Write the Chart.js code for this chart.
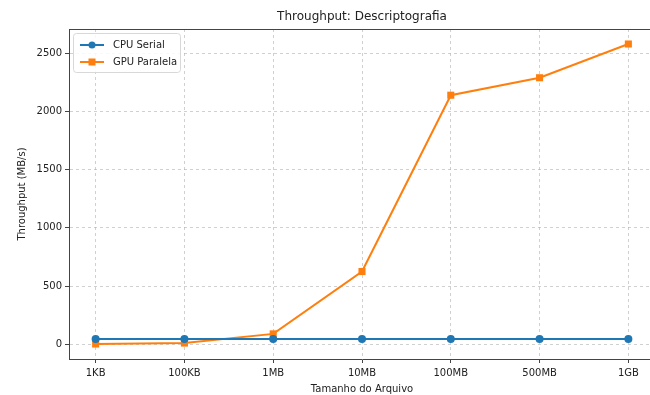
<!DOCTYPE html>
<html>
<head>
<meta charset="utf-8">
<script src="https://cdn.jsdelivr.net/npm/chart.js@4.4.0/dist/chart.umd.min.js"></script>
<style>
  html, body { margin: 0; padding: 0; background: #fff; overflow: hidden; width: 650px; height: 395px; }
  #wrap { position: relative; width: 650px; height: 395px; overflow: hidden; }
  #chart { position: absolute; left: 0; top: 0; }
</style>
</head>
<body>
<div id="wrap"><canvas id="chart" width="660" height="395"></canvas></div>
<script>
// Data
const fileSizes = ["1KB", "100KB", "1MB", "10MB", "100MB", "500MB", "1GB"];
const cpuSerial = [45, 46, 46, 46, 46, 46, 46];
const gpuParalela = [2, 10, 89, 625, 2140, 2290, 2580];
const yTicks = [0, 500, 1000, 1500, 2000, 2500];
const chartTitle = "Throughput: Descriptografia";

const FONT = "'DejaVu Sans', sans-serif";
const BLUE = "#1f77b4";
const ORANGE = "#ff7f0e";

// matplotlib style 5% margins around the data
const allVals = cpuSerial.concat(gpuParalela);
const yLo = Math.min(...allVals);
const yHi = Math.max(...allVals);
const yPad = (yHi - yLo) * 0.05;
const xPad = (fileSizes.length - 1) * 0.05;

function toPoints(arr) {
  return arr.map((v, i) => ({ x: i, y: v }));
}

// Draws the title over the axes, the top spine and the legend box (line + marker handles)
const framePlugin = {
  id: "frame",
  afterDraw(chart) {
    const { ctx, chartArea: a } = chart;
    ctx.save();
    ctx.strokeStyle = "#444";
    ctx.lineWidth = 1;
    ctx.beginPath();
    ctx.moveTo(a.left, a.top + 0.5);
    ctx.lineTo(a.right, a.top + 0.5);
    ctx.stroke();

    ctx.fillStyle = "#222";
    ctx.font = "12px " + FONT;
    ctx.textAlign = "center";
    ctx.textBaseline = "middle";
    ctx.fillText(chartTitle, (a.left + a.right) / 2, 17);

    // legend
    const bx = a.left + 4, by = a.top + 4, bw = 107, bh = 39;
    ctx.fillStyle = "rgba(255,255,255,0.85)";
    ctx.strokeStyle = "#d8d8d8";
    ctx.beginPath();
    ctx.roundRect(bx + 0.5, by + 0.5, bw, bh, 3);
    ctx.fill();
    ctx.stroke();

    const items = [
      { label: "CPU Serial", color: BLUE, marker: "circle" },
      { label: "GPU Paralela", color: ORANGE, marker: "square" },
    ];
    items.forEach((it, k) => {
      const cy = by + 12 + k * 17;
      ctx.strokeStyle = it.color;
      ctx.lineWidth = 2;
      ctx.beginPath();
      ctx.moveTo(bx + 7, cy);
      ctx.lineTo(bx + 31, cy);
      ctx.stroke();
      ctx.fillStyle = it.color;
      if (it.marker === "circle") {
        ctx.beginPath();
        ctx.arc(bx + 19, cy, 3.5, 0, Math.PI * 2);
        ctx.fill();
      } else {
        ctx.fillRect(bx + 15.5, cy - 3.5, 7, 7);
      }
      ctx.fillStyle = "#222";
      ctx.font = "10px " + FONT;
      ctx.textBaseline = "middle";
      ctx.textAlign = "left";
      ctx.fillText(it.label, bx + 40, cy);
    });
    ctx.restore();
  },
};

const ctx = document.getElementById("chart").getContext("2d");
new Chart(ctx, {
  type: "line",
  data: {
    datasets: [
      {
        label: "CPU Serial",
        data: toPoints(cpuSerial),
        borderColor: BLUE,
        backgroundColor: BLUE,
        borderWidth: 2,
        pointStyle: "circle",
        pointRadius: 4,
        pointBorderWidth: 0,
      },
      {
        label: "GPU Paralela",
        data: toPoints(gpuParalela),
        borderColor: ORANGE,
        backgroundColor: ORANGE,
        borderWidth: 2,
        pointStyle: "rect",
        pointRadius: 5,
        pointBorderWidth: 0,
      },
    ],
  },
  options: {
    responsive: false,
    animation: false,
    layout: { padding: { left: 0, right: 4, top: 29, bottom: 0 } },
    plugins: {
      legend: { display: false },
      tooltip: { enabled: false },
      title: { display: false },
    },
    scales: {
      x: {
        type: "linear",
        min: -xPad,
        max: fileSizes.length - 1 + xPad,
        afterBuildTicks: (scale) => {
          scale.ticks = fileSizes.map((_, i) => ({ value: i }));
        },
        afterFit: (scale) => {
          scale.height = 36;
        },
        ticks: {
          color: "#222",
          font: { family: FONT, size: 10 },
          padding: 4,
          maxRotation: 0,
          callback: (v) => fileSizes[v],
        },
        grid: {
          color: "rgba(176,176,176,0.6)",
          lineWidth: 1,
          tickLength: 4,
          tickColor: "#444",
          tickBorderDash: [],
        },
        border: { display: true, color: "#444", width: 1, dash: [3, 3] },
        title: {
          display: true,
          text: "Tamanho do Arquivo",
          color: "#222",
          font: { family: FONT, size: 10 },
          padding: { top: 0, bottom: 0 },
        },
      },
      y: {
        min: yLo - yPad,
        max: yHi + yPad,
        afterBuildTicks: (scale) => {
          scale.ticks = yTicks.map((v) => ({ value: v }));
        },
        afterFit: (scale) => {
          scale.width = 69;
        },
        ticks: {
          color: "#222",
          font: { family: FONT, size: 10 },
          padding: 3,
          callback: (v) => String(v),
        },
        grid: {
          color: "rgba(176,176,176,0.6)",
          lineWidth: 1,
          tickLength: 4,
          tickColor: "#444",
          tickBorderDash: [],
        },
        border: { display: true, color: "#444", width: 1, dash: [3, 3] },
        title: {
          display: true,
          text: "Throughput (MB/s)",
          color: "#222",
          font: { family: FONT, size: 10 },
          padding: { top: 16, bottom: 0 },
        },
      },
    },
  },
  plugins: [framePlugin],
});
</script>
</body>
</html>
